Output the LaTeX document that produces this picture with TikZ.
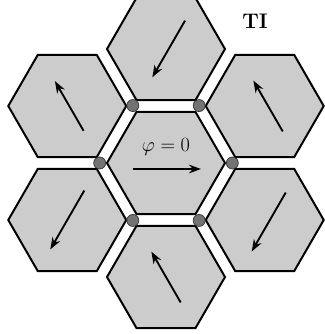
\documentclass[tikz,border=0pt]{standalone}
\usetikzlibrary{shapes.geometric, arrows.meta, positioning}
\tikzstyle{cell} = [
regular polygon,
regular polygon sides=6,
draw=black,
fill=black!20,
line width=1.7pt,
minimum size=3.54cm,
inner sep=0pt,
outer sep=0pt]
\tikzstyle{site} = [
circle,
draw=black!80,
fill=black!55,
line width=0.6pt,
minimum size=0.36cm,
inner sep=0pt]
\tikzstyle{spin} = [
draw=black,
line width=1.6pt,
-{Stealth[length=3.6mm, width=2.6mm]}]

\begin{document}
\begin{tikzpicture}
\useasboundingbox (-4.98,-5.13) rectangle (4.74,4.89);

\node[cell] (center) at (0,0) {};
\node[cell] (top) at (90:3.42) {};
\node[cell] (upperRight) at (30:3.42) {};
\node[cell] (lowerRight) at (-30:3.42) {};
\node[cell] (bottom) at (-90:3.42) {};
\node[cell] (lowerLeft) at (210:3.42) {};
\node[cell] (upperLeft) at (150:3.42) {};

\node[site] (siteE) at (0:1.99) {};
\node[site] (siteNE) at (60:1.99) {};
\node[site] (siteNW) at (120:1.99) {};
\node[site] (siteW) at (180:1.99) {};
\node[site] (siteSW) at (240:1.99) {};
\node[site] (siteSE) at (300:1.99) {};

\node[font=\fontsize{19}{22}\selectfont] (phase) at ([yshift=0.48cm]center.center) {$\varphi=0$};
\node[font=\fontsize{18}{22}\selectfont\bfseries] (label) at (2.67,4.26) {TI};

\draw[spin] ([shift={(-1.0,-0.18)}]center.center) -- ([shift={(1.05,-0.18)}]center.center);
\draw[spin] ([shift={(0.08,0)}]top.center) ++(60:0.98) -- ++(240:1.96);
\draw[spin] ([shift={(0.1,0)}]upperRight.center) ++(300:0.88) -- ++(120:1.76);
\draw[spin] ([shift={(0.12,-0.06)}]lowerRight.center) ++(60:1.02) -- ++(240:2.04);
\draw[spin] (bottom.center) ++(300:0.88) -- ++(120:1.76);
\draw[spin] (lowerLeft.center) ++(60:1.02) -- ++(240:2.04);
\draw[spin] ([shift={(0.06,0)}]upperLeft.center) ++(300:0.86) -- ++(120:1.72);

\end{tikzpicture}
\end{document}
